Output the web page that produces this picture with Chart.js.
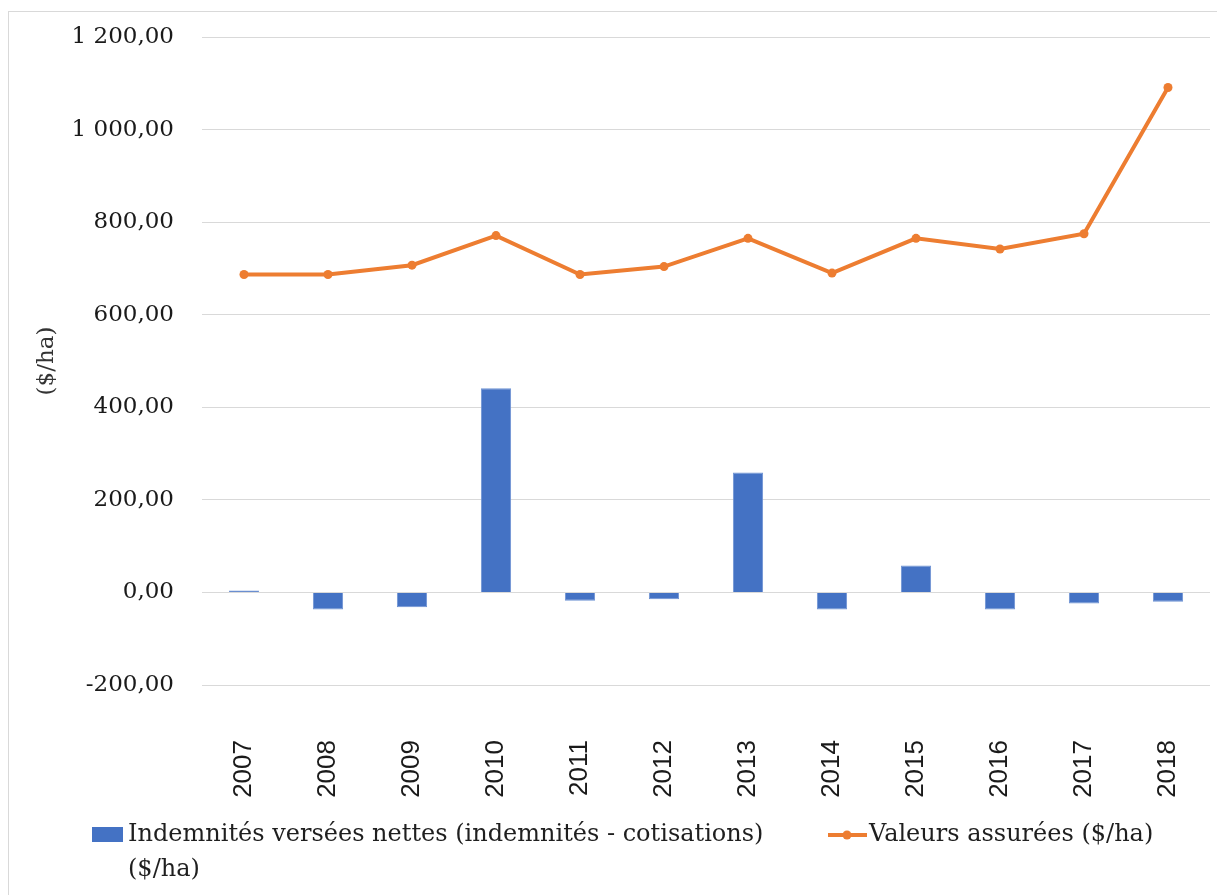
<!DOCTYPE html>
<html lang="fr">
<head>
  <meta charset="UTF-8" />
  <title>Indemnités et valeurs assurées</title>
  <script src="https://cdn.jsdelivr.net/npm/chart.js"></script>
  <style>
    html, body { margin: 0; padding: 0; background: #fff; }
    #wrap { width: 1217px; height: 895px; }
  </style>
</head>
<body>
  <div id="wrap"><canvas id="graphique" width="1217" height="895"></canvas></div>

  <script>
    // Données
    const annees = ['2007', '2008', '2009', '2010', '2011', '2012', '2013', '2014', '2015', '2016', '2017', '2018'];
    const indemnitesNettes = [4, -37, -32, 441, -18, -15, 259, -37, 58, -37, -24, -20];
    const valeursAssurees = [687, 687, 707, 771, 687, 704, 765, 690, 765, 742, 775, 1091];
    const libelleBarres = 'Indemnités versées nettes (indemnités - cotisations) ($/ha)';
    const libelleLigne = 'Valeurs assurées ($/ha)';
    const titreAxeY = '($/ha)';
    const axeYMin = -200, axeYMax = 1200, axeYPas = 200;

    const bleu = '#4472C4';
    const orange = '#ED7D31';
    const grille = '#D9D9D9';
    const serif = '"DejaVu Serif", serif';

    // 1200 -> "1 200,00"
    function formatFr(v) {
      const neg = v < 0;
      const [ent, dec] = Math.abs(v).toFixed(2).split('.');
      const groupes = ent.replace(/\B(?=(\d{3})+(?!\d))/g, ' ');
      return (neg ? '-' : '') + groupes + ',' + dec;
    }

    // cadre gris autour du graphique
    const cadre = {
      id: 'cadre',
      beforeDraw(chart) {
        const ctx = chart.ctx;
        ctx.save();
        ctx.strokeStyle = grille;
        ctx.lineWidth = 1;
        ctx.strokeRect(8.5, 11.5, chart.width + 20, chart.height + 20);
        ctx.restore();
      }
    };

    // légende en bas, avec retour à la ligne pour le libellé long
    const legendeBas = {
      id: 'legendeBas',
      afterDraw(chart) {
        const ctx = chart.ctx;
        const y0 = 835;
        const hLigne = 35;
        ctx.save();
        ctx.font = '24px ' + serif;
        ctx.textBaseline = 'middle';
        ctx.textAlign = 'left';

        // item barres
        ctx.fillStyle = bleu;
        ctx.fillRect(92, y0 - 8, 31, 15);
        ctx.fillStyle = '#1f1f1f';
        const mots = libelleBarres.split(' ');
        const lignes = [];
        let courante = '';
        mots.forEach(m => {
          const essai = courante ? courante + ' ' + m : m;
          if (ctx.measureText(essai).width > 640 && courante) {
            lignes.push(courante);
            courante = m;
          } else {
            courante = essai;
          }
        });
        lignes.push(courante);
        lignes.forEach((l, i) => ctx.fillText(l, 128, y0 + i * hLigne));

        // item ligne
        ctx.strokeStyle = orange;
        ctx.lineWidth = 4;
        ctx.beginPath();
        ctx.moveTo(828, y0);
        ctx.lineTo(867, y0);
        ctx.stroke();
        ctx.fillStyle = orange;
        ctx.beginPath();
        ctx.arc(847, y0, 4.5, 0, Math.PI * 2);
        ctx.fill();
        ctx.fillStyle = '#1f1f1f';
        ctx.fillText(libelleLigne, 869, y0);
        ctx.restore();
      }
    };

    new Chart(document.getElementById('graphique'), {
      data: {
        labels: annees,
        datasets: [
          {
            type: 'line',
            label: libelleLigne,
            data: valeursAssurees,
            borderColor: orange,
            backgroundColor: orange,
            borderWidth: 4,
            pointRadius: 4.5,
            pointBackgroundColor: orange,
            pointBorderWidth: 0,
            tension: 0,
            order: 0
          },
          {
            type: 'bar',
            label: libelleBarres,
            data: indemnitesNettes,
            backgroundColor: bleu,
            borderColor: '#6F93D3',
            borderWidth: 1,
            barPercentage: 0.36,
            categoryPercentage: 1,
            order: 1
          }
        ]
      },
      options: {
        responsive: false,
        animation: false,
        layout: { padding: { top: 37, left: 10, right: 7, bottom: 97 } },
        plugins: {
          legend: { display: false },
          tooltip: { enabled: false }
        },
        scales: {
          x: {
            offset: true,
            grid: { display: false, drawTicks: false },
            border: { display: false },
            ticks: {
              minRotation: 90,
              maxRotation: 90,
              padding: 55,
              color: '#1a1a1a',
              font: { family: '"Liberation Sans", Arial, sans-serif', size: 26 }
            },
            afterFit(scale) {
              scale.height = 113;
              scale.paddingLeft = 0;
              scale.paddingRight = 0;
            }
          },
          y: {
            min: axeYMin,
            max: axeYMax,
            ticks: {
              stepSize: axeYPas,
              padding: 28,
              color: '#1a1a1a',
              font: { family: serif, size: 23 },
              callback: v => formatFr(v)
            },
            grid: { color: grille, lineWidth: 1, drawTicks: false },
            border: { display: false },
            title: {
              display: true,
              text: titreAxeY,
              color: '#333',
              font: { family: serif, size: 23 },
              padding: { top: 23 }
            },
            afterFit(scale) {
              scale.width = 192;
              scale.paddingTop = 0;
              scale.paddingBottom = 0;
            }
          }
        }
      },
      plugins: [cadre, legendeBas]
    });
  </script>
</body>
</html>
